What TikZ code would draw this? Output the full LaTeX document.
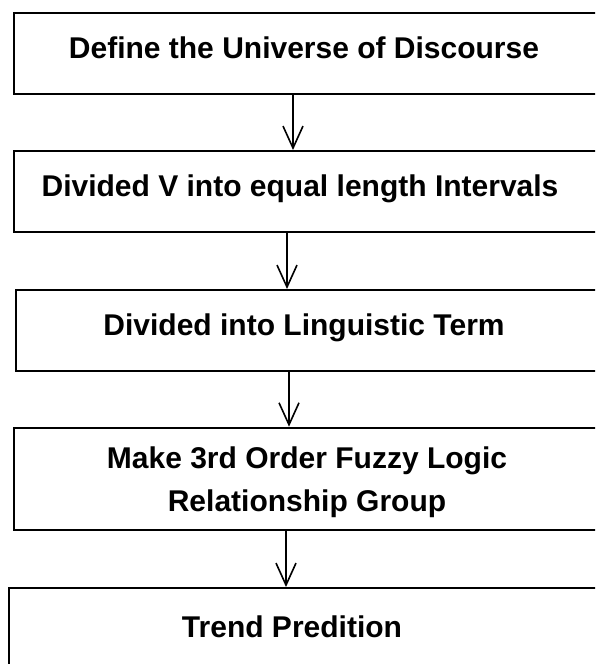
\documentclass[tikz,border=0pt]{standalone}
\usepackage{fontspec}
\setmainfont{Liberation Sans}
\usetikzlibrary{arrows.meta,positioning}

\begin{document}
\begin{tikzpicture}[x=1pt, y=-1pt,
    box/.style={rectangle, draw, line width=2pt, minimum width=700pt, minimum height=81pt, anchor=north west, inner sep=0pt},
    steptext/.style={font=\fontsize{30}{43.4}\selectfont\bfseries, align=center, anchor=base, inner sep=0pt},
    arrow/.style={-{Straight Barb[length=22pt,width=20pt,line width=1.6pt]}, line width=1.6pt}
]
\useasboundingbox (0,0) rectangle (595,664);
\clip (0,0) rectangle (595,664);

% Steps
\node[box] (b1) at (13,11.7) {};
\node[box] (b2) at (13,150) {};
\node[box] (b3) at (15,289) {};
\node[box, minimum height=102pt] (b4) at (12.5,426.7) {};
\node[box, minimum height=100pt] (b5) at (8.3,587) {};

% Texts
\node[steptext] (t1) at (304,58.3) {Define the Universe of Discourse};
\node[steptext] (t2) at (300,196.6) {Divided V into equal length Intervals};
\node[steptext] (t3) at (304,335.6) {Divided into Linguistic Term};
\node[steptext, anchor=center] (t4) at (307,482) {Make 3rd Order Fuzzy Logic\\Relationship Group};
\node[steptext] (t5) at (292,637.3) {Trend Predition};

% Arrow positions
\coordinate (a1) at (293,0);
\coordinate (a2) at (287,0);
\coordinate (a3) at (289,0);
\coordinate (a4) at (286,0);

% Arrows
\draw[arrow] (b1.south -| a1) -- (b2.north -| a1);
\draw[arrow] (b2.south -| a2) -- (b3.north -| a2);
\draw[arrow] (b3.south -| a3) -- (b4.north -| a3);
\draw[arrow] (b4.south -| a4) -- (b5.north -| a4);

\end{tikzpicture}
\end{document}
